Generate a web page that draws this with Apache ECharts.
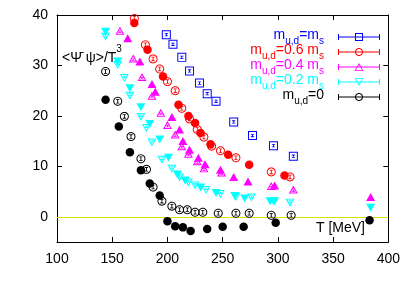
<!DOCTYPE html>
<html><head><meta charset="utf-8">
<script src="https://cdn.jsdelivr.net/npm/echarts@6/dist/echarts.min.js"></script>
<style>html,body{margin:0;padding:0;background:#fff}#c{width:403px;height:282px}</style>
</head><body><div id="c"></div>
<script>
// ---- data (T [MeV], <psibar psi>/T^3) ----
const xTicks = [100, 150, 200, 250, 300, 350, 400];
const yTicks = [0, 10, 20, 30, 40];
const legendNames = ['ms', 'm06', 'm04', 'm02', 'm0'];

const blueOpen = [[199,36.1],[205,34.2],[213,31.6],[220,28.9],[229,26.5],[236,24.4],[244,22.9],[260,18.8],[277,16.1],[296,14.1],[314,12.0]];

const redOpen = [[170,39.3],[180,34.1],[187,31.3],[193,29.3],[200,26.8],[207,25.0],[213,21.5],[220,19.4],[227,17.3],[233,15.8],[240,14.0],[248,13.1],[262,11.7],[294,8.9],[311,7.9]];
const redFilled = [[170,38.4],[182,33.1],[196,27.8],[210,22.2],[219,20.0],[225,18.6],[230,16.6],[239,14.4],[255,12.3],[274,10.3],[306,8.2]];

const magOpen = [[157,36.9],[169,31.4],[177,27.7],[186,24.0],[194,20.6],[200,18.2],[207,16.3],[213,14.0],[219,12.5],[227,11.0],[233,9.6],[249,8.8],[294,6.1],[314,5.4]];
const magFilled = [[164,35.4],[175,30.8],[186,26.3],[189,24.8],[204,19.8],[211,17.3],[214,15.0],[220,13.3],[228,11.7],[234,10.4],[248,9.3],[260,7.9],[273,7.0],[297,6.2],[384,3.9]];

const cyanOpen = [[144,35.7],[155,30.1],[161,27.5],[166,24.0],[176,19.8],[181,17.6],[186,14.7],[195,11.3],[204,9.5],[211,7.8],[219,6.8],[225,6.2],[235,5.3],[248,4.5],[262,3.9],[276,3.8],[296,3.1],[311,2.8]];
const cyanFilled = [[144,36.7],[155,30.8],[166,25.5],[176,21.7],[184,18.4],[193,15.3],[201,11.7],[209,8.4],[216,7.2],[230,5.8],[244,4.7],[261,4.1],[270,3.6],[293,3.1],[297,3.1],[384,1.8]];

const blackOpen = [[144,28.8],[155,22.9],[161,19.9],[167,15.9],[176,11.5],[181,9.4],[187,5.9],[195,3.1],[204,2.1],[211,1.4],[218,1.4],[225,0.9],[232,0.9],[246,0.7],[262,0.7],[274,0.7],[294,0.3],[312,0.3]];
const blackFilled = [[144,23.2],[156,17.9],[166,12.8],[176,9.2],[184,6.6],[193,4.2],[200,-0.9],[207,-1.9],[214,-2.1],[221,-2.8],[236,-2.4],[250,-2.0],[269,-2.0],[298,-1.2],[383,-0.7]];

// ---- symbol path helpers (styling only) ----
function rect(x,y,w,h){return 'M'+x+' '+y+' H'+(x+w)+' V'+(y+h)+' H'+x+' Z ';}
function rectRev(x,y,w,h){return 'M'+x+' '+y+' V'+(y+h)+' H'+(x+w)+' V'+y+' Z ';}
function poly(pts){return 'M'+pts.map(p=>p[0].toFixed(2)+' '+p[1].toFixed(2)).join(' L')+' Z ';}
function circ(cx,cy,r,rev){const n=28,p=[];for(let i=0;i<n;i++){const a=(rev?-1:1)*i*2*Math.PI/n;p.push([cx+r*Math.cos(a),cy+r*Math.sin(a)]);}return poly(p);}
function ibar(cx,cy,h){h=h||2;return rect(cx-0.5,cy-h,1,2*h)+rect(cx-1.8,cy-h,3.6,0.9)+rect(cx-1.8,cy+h-0.9,3.6,0.9);}

const symSquare = 'path://'+rect(0,0,10,10)+rectRev(1.1,1.1,7.8,7.8)+ibar(5,5,1.8);
const symCircle = 'path://'+circ(5,5,5,false)+circ(5,5,3.9,true)+ibar(5,5,2.5);
const symTriUp = 'path://'+poly([[5,0],[10,10],[0,10]])+poly([[5,2.7],[1.9,8.8],[8.1,8.8]])+ibar(5,6.5,1.5);
const symTriDn = 'path://'+poly([[0,0],[10,0],[5,10]])+poly([[1.9,1.2],[5,7.3],[8.1,1.2]])+ibar(5,3.5,1.5);

const lgBase = rect(0,4.5,42,1)+rect(0,2,1,6)+rect(41,2,1,6);
const lgSquare = 'path://'+lgBase+rect(17,1,8,8)+rectRev(18,2,6,6);
const lgCircle = 'path://'+lgBase+circ(21,5,4,false)+circ(21,5,3,true);
const lgTriUp = 'path://'+lgBase+poly([[21,1],[25.5,9],[16.5,9]])+poly([[21,3],[17.8,8.2],[24.2,8.2]]);
const lgTriDn = 'path://'+lgBase+poly([[16.5,1],[25.5,1],[21,9]])+poly([[17.8,1.8],[21,7],[24.2,1.8]]);

const C = {blue:'#0000ff', red:'#ff0000', mag:'#ff00ff', cyan:'#00ffff', black:'#000000'};
const FONT = 'Liberation Sans';

const legendText = {
  ms: '{m|m}{s|u,d}{m|=m}{s|s}{g| }',
  m06: '{m|m}{s|u,d}{m|=0.6 m}{s|s}{g| }',
  m04: '{m|m}{s|u,d}{m|=0.4 m}{s|s}{g| }',
  m02: '{m|m}{s|u,d}{m|=0.2 m}{s|s}{g| }',
  m0: '{m|m}{s|u,d}{m|=0}{g| }'
};

function sc(name, data, symbol, size, color, extra){
  return Object.assign({type:'scatter', name:name, data:data, symbol:symbol, symbolSize:size,
    itemStyle:{color:color, opacity:1}, emphasis:{disabled:true}, silent:true}, extra||{});
}

const axisCommon = {
  axisLine:{show:true, onZero:false, lineStyle:{color:'#000', width:1}},
  splitLine:{show:false}
};

const chart = echarts.init(document.getElementById('c'), null, {renderer:'canvas'});
chart.setOption({
  animation:false,
  backgroundColor:'#fff',
  grid:{left:57, right:10, top:15, bottom:40},
  xAxis:[
    Object.assign({type:'value', min:100, max:400, interval:50,
      axisTick:{inside:true, length:5, lineStyle:{color:'#000'}},
      axisLabel:{margin:10, fontSize:14, color:'#000', fontFamily:FONT, customValues:xTicks}}, axisCommon),
    Object.assign({type:'value', position:'top', min:100, max:400, interval:50,
      axisTick:{inside:true, length:5, lineStyle:{color:'#000'}},
      axisLabel:{show:false}}, axisCommon)
  ],
  yAxis:[
    Object.assign({type:'value', min:-5, max:40,
      axisTick:{inside:true, length:5, lineStyle:{color:'#000'}, customValues:yTicks},
      axisLabel:{margin:9, fontSize:14, color:'#000', fontFamily:FONT, customValues:yTicks}}, axisCommon),
    Object.assign({type:'value', position:'right', min:-5, max:40,
      axisTick:{inside:true, length:5, lineStyle:{color:'#000'}, customValues:yTicks},
      axisLabel:{show:false, customValues:yTicks}}, axisCommon)
  ],
  legend:{
    orient:'vertical', right:23, top:28, padding:0, itemGap:-3,
    itemWidth:42, itemHeight:8, align:'right', selectedMode:false,
    formatter: n => legendText[n],
    textStyle:{fontFamily:FONT, rich:{
      m:{fontSize:14, fontFamily:FONT, lineHeight:18, verticalAlign:'top'},
      s:{fontSize:10, fontFamily:FONT, lineHeight:10, verticalAlign:'bottom'},
      g:{width:9, fontSize:10}
    }},
    data:[
      {name:'ms', icon:lgSquare, itemStyle:{color:C.blue, borderWidth:0}, textStyle:{color:C.blue}},
      {name:'m06', icon:lgCircle, itemStyle:{color:C.red, borderWidth:0}, textStyle:{color:C.red}},
      {name:'m04', icon:lgTriUp, itemStyle:{color:C.mag, borderWidth:0}, textStyle:{color:C.mag}},
      {name:'m02', icon:lgTriDn, itemStyle:{color:C.cyan, borderWidth:0}, textStyle:{color:C.cyan}},
      {name:'m0', icon:lgCircle, itemStyle:{color:C.black, borderWidth:0}, textStyle:{color:C.black}}
    ]
  },
  graphic:[
    {type:'text', x:62, y:58.5, silent:true, style:{
      text:'{a|<Ψ̄ ψ>/T}{b|3}', fill:'#000', verticalAlign:'middle', align:'left',
      rich:{a:{fontSize:14, fontFamily:FONT, lineHeight:28}, b:{fontSize:10, fontFamily:FONT, lineHeight:10, verticalAlign:'top'}}
    }},
    {type:'text', x:316, y:228, silent:true, style:{text:'T [MeV]', fill:'#000', fontSize:14, fontFamily:FONT, verticalAlign:'middle'}}
  ],
  series:[
    sc('m0', blackOpen, symCircle, 9, C.black, {markLine:{silent:true, symbol:'none', label:{show:false},
      lineStyle:{color:'#e0e000', width:1, type:'solid'}, data:[{yAxis:0}], z:1}}),
    sc('black-f', blackFilled, 'circle', 8.5, C.black),
    sc('m02', cyanOpen, symTriDn, [9,8], C.cyan),
    sc('cyan-f', cyanFilled, 'triangle', [9,8], C.cyan, {symbolRotate:180}),
    sc('m04', magOpen, symTriUp, [9,8], C.mag),
    sc('mag-f', magFilled, 'triangle', [9,8], C.mag),
    sc('red-f', redFilled, 'circle', 8.5, C.red),
    sc('m06', redOpen, symCircle, 9, C.red),
    sc('ms', blueOpen, symSquare, 9, C.blue)
  ]
});
</script></body></html>
